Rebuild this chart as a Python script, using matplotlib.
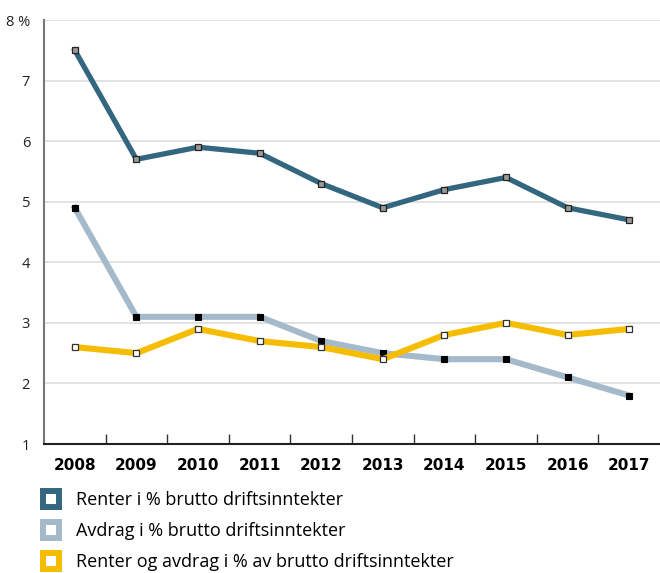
import matplotlib
matplotlib.use("Agg")
import matplotlib.pyplot as plt
from matplotlib.lines import Line2D

years = ["2008", "2009", "2010", "2011", "2012", "2013", "2014", "2015", "2016", "2017"]
renter = [7.5, 5.7, 5.9, 5.8, 5.3, 4.9, 5.2, 5.4, 4.9, 4.7]
avdrag = [4.9, 3.1, 3.1, 3.1, 2.7, 2.5, 2.4, 2.4, 2.1, 1.8]
samlet = [2.6, 2.5, 2.9, 2.7, 2.6, 2.4, 2.8, 3.0, 2.8, 2.9]
ytick_vals = [1, 2, 3, 4, 5, 6, 7, 8]
ytick_labels = ["1", "2", "3", "4", "5", "6", "7", "8 %"]
labels = ["Renter i % brutto driftsinntekter",
          "Avdrag i % brutto driftsinntekter",
          "Renter og avdrag i % av brutto driftsinntekter"]

c_renter = "#33667f"
c_avdrag = "#a4bacb"
c_samlet = "#f6bd00"

plt.rcParams['font.family'] = ['Open Sans', 'DejaVu Sans']

fig = plt.figure(figsize=(6.6, 5.73), dpi=100)
ax = fig.add_axes([44/660, (573-444)/573, 616/660, 424/573])

x = list(range(len(years)))
ax.plot(x, avdrag, color=c_avdrag, lw=4.4, solid_joinstyle='miter', zorder=3,
        marker='s', ms=5, mfc='black', mec='black', mew=0.8)
ax.plot(x, samlet, color=c_samlet, lw=4.4, solid_joinstyle='miter', zorder=4,
        marker='s', ms=5, mfc='white', mec='#333333', mew=0.9)
ax.plot(x, renter, color=c_renter, lw=3.8, solid_joinstyle='miter', zorder=5,
        marker='s', ms=5, mfc='#9a9a9a', mec='#222222', mew=0.9)

ax.set_xlim(-0.5, len(years) - 0.5)
ax.set_ylim(1, 8)
ax.set_yticks(ytick_vals)
ax.set_yticklabels(ytick_labels, fontsize=10.5, color='#222222')
ax.yaxis.grid(True, color='#dddddd', lw=1.2)
ax.set_axisbelow(True)
ax.tick_params(axis='y', length=0, pad=10)

ax.set_xticks(x)
ax.set_xticklabels(years, fontsize=11, fontweight='bold', family='DejaVu Sans')
ax.set_xticks([i + 0.5 for i in x[:-1]], minor=True)
ax.tick_params(axis='x', which='major', length=0, pad=10)
ax.tick_params(axis='x', which='minor', direction='in', length=7, width=1, color='#333333')

for s in ['top', 'right']:
    ax.spines[s].set_visible(False)
ax.spines['left'].set_color('#777777')
ax.spines['left'].set_linewidth(1.5)
ax.spines['bottom'].set_color('#222222')
ax.spines['bottom'].set_linewidth(1.5)

handles = [Line2D([], [], linestyle='none', marker='s', ms=11.5, mfc='white', mec=c, mew=4.3)
           for c in (c_renter, c_avdrag, c_samlet)]
fig.legend(handles, labels, loc='upper left', bbox_to_anchor=(32/660, 1 - 484/573),
           frameon=False, fontsize=13, handletextpad=0.75, labelspacing=0.72,
           handlelength=1.3, borderaxespad=0)

fig.savefig("out.png", dpi=100)
